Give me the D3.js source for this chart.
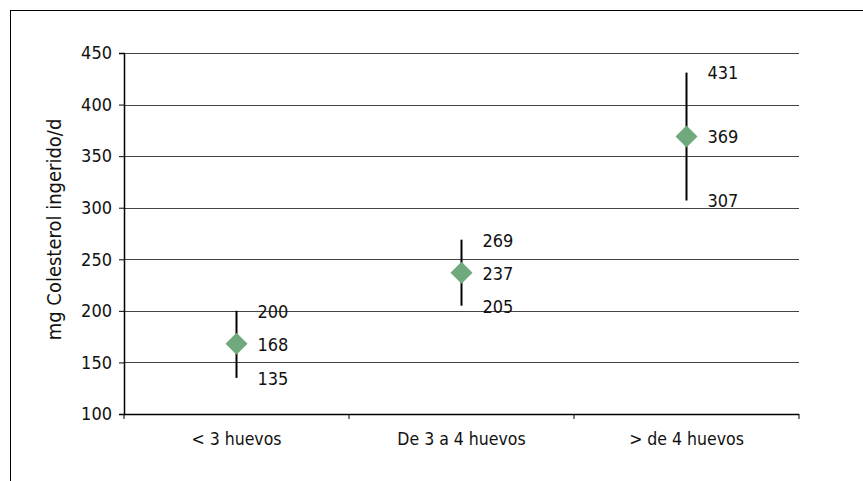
<!DOCTYPE html>
<html>
<head>
<meta charset="utf-8">
<script src="https://cdn.jsdelivr.net/npm/d3@7"></script>
<style>
  body { margin: 0; background: #fff; }
  text { font-family: "DejaVu Sans Condensed", "DejaVu Sans", sans-serif; font-stretch: condensed; fill: #111; }
</style>
</head>
<body>
<div id="main-container"></div>
<script>
var categories = ["< 3 huevos", "De 3 a 4 huevos", "> de 4 huevos"];
var meanValues = [168, 237, 369];
var lowValues  = [135, 205, 307];
var highValues = [200, 269, 431];
var yTicks = [100, 150, 200, 250, 300, 350, 400, 450];

var width = 863, height = 481;
var margin = { left: 124, right: 64, top: 53, bottom: 67 };
var fontFam = "DejaVu Sans Condensed, DejaVu Sans, sans-serif";

var svg = d3.select("#main-container")
            .append("svg")
            .attr("width", width)
            .attr("height", height);

// outer frame (runs off right and bottom)
svg.append("rect")
   .attr("x", 10.5).attr("y", 10.5)
   .attr("width", 900).attr("height", 600)
   .attr("fill", "none").attr("stroke", "#000").attr("stroke-width", 1);

var x = d3.scaleBand()
          .domain(categories)
          .range([margin.left, width - margin.right]);

var y = d3.scaleLinear()
          .domain([100, 450])
          .range([height - margin.bottom, margin.top]);

// gridlines
svg.append("g")
   .selectAll("line")
   .data(yTicks.slice(1))
   .enter()
   .append("line")
   .attr("x1", margin.left).attr("x2", width - margin.right)
   .attr("y1", function(d) { return Math.round(y(d)) + 0.5; })
   .attr("y2", function(d) { return Math.round(y(d)) + 0.5; })
   .attr("stroke", "#444").attr("stroke-width", 1.2);

// y axis
var yAxis = svg.append("g")
   .attr("transform", "translate(" + margin.left + ",0)")
   .call(d3.axisLeft(y).tickValues(yTicks).tickSize(5).tickPadding(7));
yAxis.select(".domain").attr("stroke", "#000").attr("stroke-width", 1.5);
yAxis.selectAll(".tick line").attr("stroke", "#000");
yAxis.selectAll(".tick text").attr("font-size", "18px")
     .attr("font-family", fontFam).attr("fill", "#111");

// x axis
var xAxis = svg.append("g")
   .attr("transform", "translate(0," + (height - margin.bottom) + ")")
   .call(d3.axisBottom(x).tickSize(0).tickPadding(19));
xAxis.select(".domain").remove();
xAxis.selectAll(".tick text").attr("font-size", "17.5px")
     .attr("font-family", fontFam).attr("fill", "#111");
xAxis.append("line")
     .attr("x1", margin.left).attr("x2", width - margin.right)
     .attr("y1", 0.5).attr("y2", 0.5)
     .attr("stroke", "#000").attr("stroke-width", 1.5);
xAxis.selectAll(".sep")
     .data(categories.map(function(c) { return x(c); }).concat([width - margin.right]))
     .enter()
     .append("line")
     .attr("x1", function(d) { return d; }).attr("x2", function(d) { return d; })
     .attr("y1", 0).attr("y2", 5)
     .attr("stroke", "#000");

// y axis title
svg.append("text")
   .attr("transform", "translate(61," + ((margin.top + height - margin.bottom) / 2 - 4) + ") rotate(-90)")
   .attr("text-anchor", "middle")
   .attr("font-size", "20px")
   .text("mg Colesterol ingerido/d");

// error bars
svg.selectAll(".err")
   .data(categories)
   .enter()
   .append("line")
   .attr("x1", function(d) { return x(d) + x.bandwidth() / 2; })
   .attr("x2", function(d) { return x(d) + x.bandwidth() / 2; })
   .attr("y1", function(d, i) { return y(lowValues[i]); })
   .attr("y2", function(d, i) { return y(highValues[i]); })
   .attr("stroke", "#000").attr("stroke-width", 2);

// diamonds
var diamond = d3.symbol().type(d3.symbolSquare).size(242);
svg.selectAll(".pt")
   .data(categories)
   .enter()
   .append("path")
   .attr("d", diamond)
   .attr("transform", function(d, i) {
       return "translate(" + (x(d) + x.bandwidth() / 2) + "," + y(meanValues[i]) + ") rotate(45)";
   })
   .attr("fill", "#70a97b");

// value labels
var labelRows = [highValues, meanValues, lowValues];
labelRows.forEach(function(row) {
    svg.append("g").selectAll("text")
       .data(categories)
       .enter()
       .append("text")
       .attr("x", function(d) { return x(d) + x.bandwidth() / 2 + 21; })
       .attr("y", function(d, i) { return y(row[i]); })
       .attr("dy", "0.38em")
       .attr("font-size", "18px")
       .text(function(d, i) { return row[i]; });
});
</script>
</body>
</html>
